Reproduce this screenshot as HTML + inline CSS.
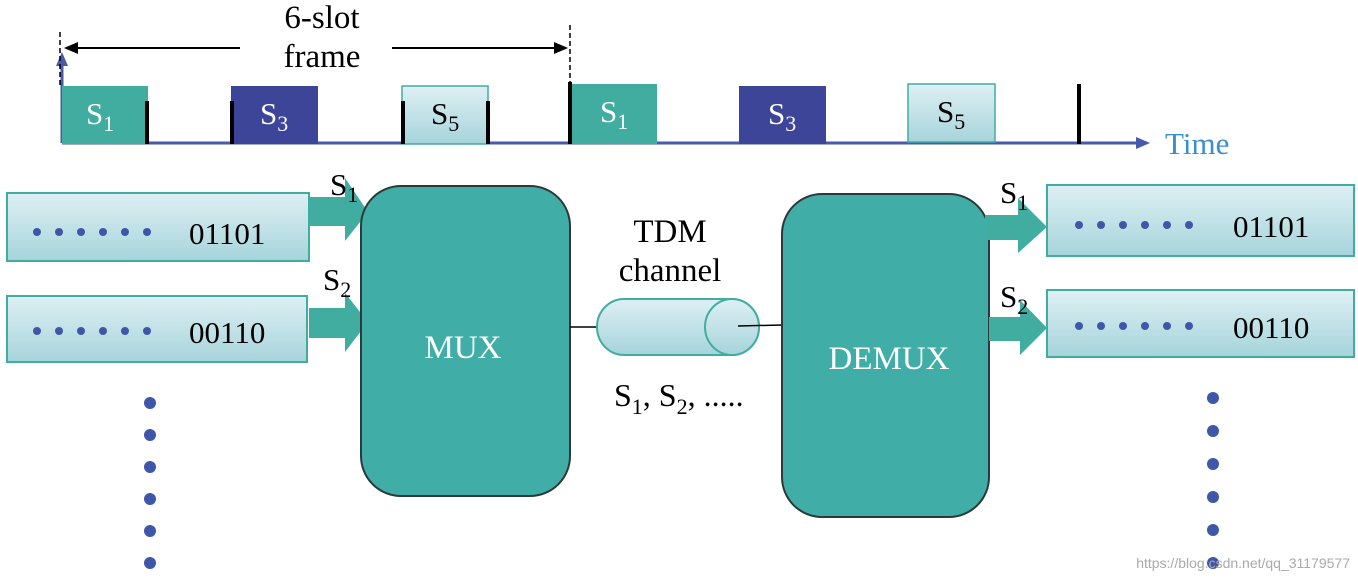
<!DOCTYPE html>
<html><head><meta charset="utf-8"><style>
html,body{margin:0;padding:0;background:#fff;width:1358px;height:579px;overflow:hidden}
text{font-family:"Liberation Serif",serif}
</style></head><body>
<svg width="1358" height="579" viewBox="0 0 1358 579" xmlns="http://www.w3.org/2000/svg">
<defs>
<linearGradient id="lg" x1="0" y1="0" x2="0" y2="1"><stop offset="0" stop-color="#def0f4"/><stop offset="1" stop-color="#a6d4db"/></linearGradient>
</defs>
<line x1="62" y1="143" x2="1140" y2="143" stroke="#4a5aaa" stroke-width="3"/>
<path d="M1136,137 L1150,143 L1136,149 Z" fill="#4a5aaa"/>
<line x1="62" y1="143" x2="62" y2="62" stroke="#4a5aaa" stroke-width="3"/>
<path d="M56,66 L62,52 L68,66 Z" fill="#4a5aaa"/>
<line x1="60" y1="32" x2="60" y2="88" stroke="#000" stroke-width="1.5" stroke-dasharray="5,3"/>
<line x1="570" y1="25" x2="570" y2="85" stroke="#000" stroke-width="1.5" stroke-dasharray="5,3"/>
<line x1="68" y1="48" x2="240" y2="48" stroke="#000" stroke-width="2"/>
<path d="M64,48 L78,42 L78,54 Z" fill="#000"/>
<line x1="392" y1="48" x2="560" y2="48" stroke="#000" stroke-width="2"/>
<path d="M568,48 L554,42 L554,54 Z" fill="#000"/>
<text x="322" y="28" font-size="33" text-anchor="middle">6-slot</text>
<text x="322" y="67" font-size="33" text-anchor="middle">frame</text>
<text x="1165" y="154" font-size="31" fill="#3a8fd0">Time</text>
<rect x="62" y="86" width="86" height="58" fill="#40ada0"/>
<text x="86" y="124" font-size="31" fill="#fff">S<tspan font-size="22" dy="7">1</tspan></text>
<rect x="231" y="86" width="87" height="58" fill="#3c4597"/>
<text x="260" y="124" font-size="31" fill="#fff">S<tspan font-size="22" dy="7">3</tspan></text>
<rect x="402" y="86" width="86" height="58" fill="url(#lg)" stroke="#40ada0" stroke-width="1.5"/>
<text x="431" y="124" font-size="31">S<tspan font-size="22" dy="7">5</tspan></text>
<rect x="568" y="84" width="89" height="60" fill="#40ada0"/>
<text x="600" y="122" font-size="31" fill="#fff">S<tspan font-size="22" dy="7">1</tspan></text>
<rect x="739" y="86" width="87" height="58" fill="#3c4597"/>
<text x="768" y="124" font-size="31" fill="#fff">S<tspan font-size="22" dy="7">3</tspan></text>
<rect x="908" y="84" width="87" height="58" fill="url(#lg)" stroke="#40ada0" stroke-width="1.5"/>
<text x="937" y="122" font-size="31">S<tspan font-size="22" dy="7">5</tspan></text>
<g fill="#000">
<rect x="145" y="101" width="4" height="43"/>
<rect x="230" y="101" width="4" height="43"/>
<rect x="401" y="101" width="4" height="43"/>
<rect x="486" y="101" width="4" height="43"/>
<rect x="568" y="82" width="4" height="62"/>
<rect x="1077" y="84" width="4" height="60"/>
</g>
<rect x="7" y="193" width="302" height="68" fill="url(#lg)" stroke="#40ada0" stroke-width="2"/>
<rect x="7" y="296" width="300" height="66" fill="url(#lg)" stroke="#40ada0" stroke-width="2"/>
<g fill="#3f57a8">
<circle cx="37" cy="232" r="4"/><circle cx="59" cy="232" r="4"/><circle cx="81" cy="232" r="4"/><circle cx="103" cy="232" r="4"/><circle cx="125" cy="232" r="4"/><circle cx="147" cy="232" r="4"/>
<circle cx="37" cy="331" r="4"/><circle cx="59" cy="331" r="4"/><circle cx="81" cy="331" r="4"/><circle cx="103" cy="331" r="4"/><circle cx="125" cy="331" r="4"/><circle cx="147" cy="331" r="4"/>
</g>
<text x="189" y="244" font-size="31">01101</text>
<text x="189" y="343" font-size="31">00110</text>
<path d="M309,197 L345,197 L345,178 L368,212 L345,241 L345,226 L309,226 Z" fill="#40ada0"/>
<path d="M309,308 L345,308 L345,293 L368,322 L345,352 L345,338 L309,338 Z" fill="#40ada0"/>
<text x="330" y="195" font-size="31">S<tspan font-size="22" dy="7">1</tspan></text>
<text x="323" y="290" font-size="31">S<tspan font-size="22" dy="7">2</tspan></text>
<rect x="361" y="186" width="209" height="310" rx="40" fill="#40ada6" stroke="#2a3a3a" stroke-width="2"/>
<text x="463" y="358" font-size="33" fill="#fff" text-anchor="middle">MUX</text>
<line x1="570" y1="327" x2="597" y2="327" stroke="#000" stroke-width="1.5"/>
<path d="M624,299 L732,299 A27,28 0 0 1 732,355 L624,355 A27,28 0 0 1 624,299 Z" fill="url(#lg)" stroke="#40ada0" stroke-width="2"/>
<ellipse cx="732" cy="327" rx="27" ry="28" fill="url(#lg)" stroke="#40ada0" stroke-width="2"/>
<line x1="738" y1="326" x2="782" y2="325" stroke="#000" stroke-width="1.5"/>
<text x="670" y="242" font-size="33" text-anchor="middle">TDM</text>
<text x="670" y="281" font-size="33" text-anchor="middle">channel</text>
<text x="614" y="406" font-size="32">S<tspan font-size="22" dy="8">1</tspan><tspan dy="-8">, S</tspan><tspan font-size="22" dy="8">2</tspan><tspan dy="-8">,  .....</tspan></text>
<rect x="782" y="194" width="207" height="323" rx="40" fill="#40ada6" stroke="#2a3a3a" stroke-width="2"/>
<text x="889" y="369" font-size="33" fill="#fff" text-anchor="middle">DEMUX</text>
<path d="M985,215 L1018,215 L1018,198 L1047,227 L1018,253 L1018,240 L985,240 Z" fill="#40ada0"/>
<path d="M989,317 L1020,317 L1020,300 L1047,328 L1020,355 L1020,341 L989,341 Z" fill="#40ada0"/>
<text x="1000" y="203" font-size="31">S<tspan font-size="22" dy="7">1</tspan></text>
<text x="1000" y="307" font-size="31">S<tspan font-size="22" dy="7">2</tspan></text>
<rect x="1047" y="185" width="307" height="71" fill="url(#lg)" stroke="#40ada0" stroke-width="2"/>
<rect x="1047" y="290" width="307" height="67" fill="url(#lg)" stroke="#40ada0" stroke-width="2"/>
<g fill="#3f57a8">
<circle cx="1079" cy="225" r="4"/><circle cx="1101" cy="225" r="4"/><circle cx="1123" cy="225" r="4"/><circle cx="1145" cy="225" r="4"/><circle cx="1167" cy="225" r="4"/><circle cx="1189" cy="225" r="4"/>
<circle cx="1079" cy="326" r="4"/><circle cx="1101" cy="326" r="4"/><circle cx="1123" cy="326" r="4"/><circle cx="1145" cy="326" r="4"/><circle cx="1167" cy="326" r="4"/><circle cx="1189" cy="326" r="4"/>
<circle cx="150" cy="403" r="6"/><circle cx="150" cy="435" r="6"/><circle cx="150" cy="467" r="6"/><circle cx="150" cy="499" r="6"/><circle cx="150" cy="531" r="6"/><circle cx="150" cy="563" r="6"/>
<circle cx="1213" cy="398" r="6"/><circle cx="1213" cy="431" r="6"/><circle cx="1213" cy="464" r="6"/><circle cx="1213" cy="497" r="6"/><circle cx="1213" cy="530" r="6"/><circle cx="1213" cy="563" r="6"/>
</g>
<text x="1233" y="237" font-size="31">01101</text>
<text x="1233" y="338" font-size="31">00110</text>
<text x="1350" y="568" font-size="14" fill="#aaa" text-anchor="end" style="font-family:'Liberation Sans',sans-serif">https://blog.csdn.net/qq_31179577</text>
</svg>
</body></html>
